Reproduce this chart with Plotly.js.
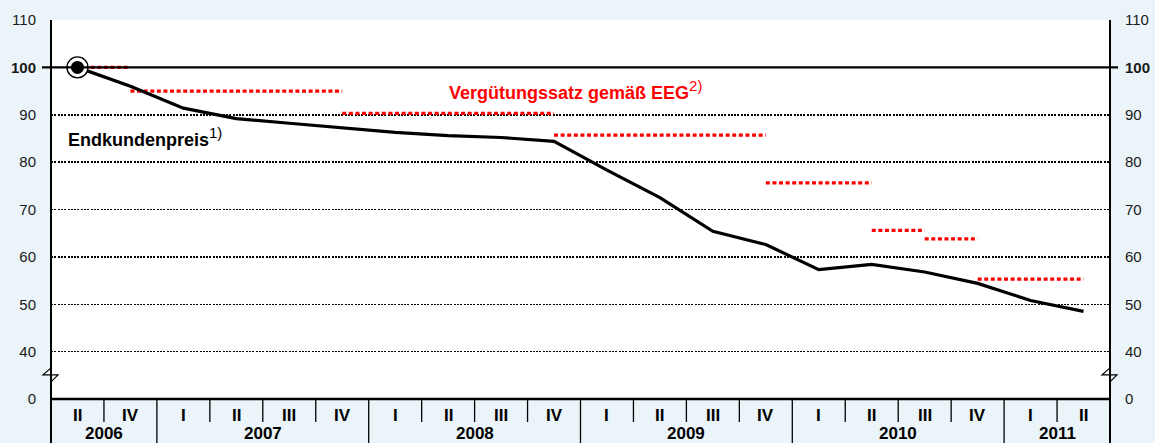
<!DOCTYPE html>
<html><head><meta charset="utf-8">
<script src="https://cdn.plot.ly/plotly-3.0.1.min.js"></script>
<style>html,body{margin:0;padding:0;background:#EBF4F8;}</style>
</head><body><div id="chart" style="width:1155px;height:443px;"></div>
<script>
// Categories (quarter columns) and their years
const quarters = ['II','IV','I','II','III','IV','I','II','III','IV','I','II','III','IV','I','II','III','IV','I','II'];
const quarterYears = ['2006','2006','2007','2007','2007','2007','2008','2008','2008','2008','2009','2009','2009','2009','2010','2010','2010','2010','2011','2011'];

// Endkundenpreis index (2006 II = 100)
const endkundenpreis = [100, 96.0, 91.4, 89.2, 88.2, 87.3, 86.3, 85.6, 85.2, 84.4, 78.3, 72.5, 65.4, 62.6, 57.3, 58.4, 56.8, 54.4, 50.8, 48.5];

// Vergütungssatz gemäß EEG: step segments (start column, end column, rate)
const eegStart = [0, 1, 5, 9, 13, 15, 16, 17];
const eegEnd   = [1, 5, 9, 13, 15, 16, 17, 19];
const eegRate  = [100, 95.0, 90.3, 85.7, 75.6, 65.6, 63.8, 55.3];

// Y axis ticks (axis break: "0" shown at the bottom)
const yTickVals = [30, 40, 50, 60, 70, 80, 90, 100, 110];
const yTickText = ['0', '40', '50', '60', '70', '80', '90', '<b>100</b>', '110'];

const FONT = 'Liberation Sans, Arial, sans-serif';
const xIdx = quarters.map((q, i) => i);

// Build red step trace from segments
const eegX = [], eegY = [];
eegRate.forEach((r, k) => {
  eegX.push(eegStart[k], eegEnd[k], null);
  eegY.push(r, r, null);
});

const traces = [
  { x: eegX, y: eegY, mode: 'lines', line: { color: '#FF0000', width: 3.2, dash: '4px,2.6px' }, hoverinfo: 'skip', showlegend: false },
  { x: xIdx, y: endkundenpreis, mode: 'lines', line: { color: '#000', width: 3.2 }, showlegend: false },
  { x: [xIdx[0]], y: [endkundenpreis[0]], mode: 'markers', marker: { size: 21, color: '#fff', line: { color: '#000', width: 1.3 } }, showlegend: false },
  { x: [xIdx[0]], y: [endkundenpreis[0]], mode: 'markers', marker: { size: 13, color: '#000' }, showlegend: false },
  { x: [xIdx[0]], y: [null], yaxis: 'y2', mode: 'markers', showlegend: false, hoverinfo: 'skip' }
];

const plotH = 443 - 20 - 44;
const plotW = 1155 - 51 - 45;
const bottomP = -44 / plotH;
const shortP = -(422 - 399) / plotH;

const shapes = [];
// column separators
for (let i = 1; i < quarters.length; i++) {
  const yearBreak = quarterYears[i] !== quarterYears[i - 1];
  shapes.push({ type: 'line', xref: 'x', yref: 'paper', x0: i - 0.5, x1: i - 0.5, y0: 0, y1: yearBreak ? bottomP : shortP,
    line: { color: '#000', width: 1.3 } });
}
// borders
shapes.push({ type: 'line', xref: 'paper', yref: 'paper', x0: 0, x1: 0, y0: 1, y1: bottomP, line: { color: '#000', width: 2 } });
shapes.push({ type: 'line', xref: 'paper', yref: 'paper', x0: 1, x1: 1, y0: 1, y1: bottomP, line: { color: '#000', width: 2 } });
shapes.push({ type: 'line', xref: 'paper', yref: 'paper', x0: 0, x1: 1, y0: 0, y1: 0, line: { color: '#000', width: 2.5 } });
// 100 reference line
shapes.push({ type: 'line', xref: 'paper', yref: 'y', x0: -9 / plotW, x1: 1 + 8 / plotW, y0: 100, y1: 100, line: { color: '#000', width: 2.2 } });
// axis break zigzags
[0, 1].forEach(px => {
  shapes.push({ type: 'path', xref: 'paper', yref: 'y', xsizemode: 'pixel', ysizemode: 'pixel', xanchor: px, yanchor: 35.1,
    path: 'M0,7 L-8,0 L7,0 L0,-7', line: { color: '#000', width: 1.2 } });
});

const annotations = [];
quarters.forEach((q, i) => {
  annotations.push({ xref: 'x', yref: 'paper', x: i, y: -(415 - 399) / plotH, text: '<b>' + q + '</b>', showarrow: false,
    xanchor: 'center', yanchor: 'middle', font: { family: FONT, size: 17, color: '#000' } });
});
const yearList = [...new Set(quarterYears)];
yearList.forEach(yr => {
  const idx = xIdx.filter(i => quarterYears[i] === yr);
  const c = (idx[0] + idx[idx.length - 1]) / 2;
  annotations.push({ xref: 'x', yref: 'paper', x: c, y: -(433.5 - 399) / plotH, text: '<b>' + yr + '</b>', showarrow: false,
    xanchor: 'center', yanchor: 'middle', font: { family: FONT, size: 17, color: '#000' } });
});
annotations.push({ xref: 'paper', yref: 'y', x: 15 / plotW, y: 85.3, text: '<b>Endkundenpreis</b><sup><span style="font-size:15px">1)</span></sup>', showarrow: false,
  xanchor: 'left', yanchor: 'middle', font: { family: FONT, size: 18, color: '#000' } });
annotations.push({ xref: 'paper', yref: 'y', x: (447 - 51) / plotW, y: 95.2, text: '<b>Vergütungssatz gemäß EEG</b><sup><span style="font-size:15px">2)</span></sup>', showarrow: false,
  xanchor: 'left', yanchor: 'middle', font: { family: FONT, size: 18, color: '#FF0000' } });

const yCommon = {
  range: [30, 110], tickvals: yTickVals, ticktext: yTickText, ticks: '', ticklabelstandoff: 14,
  tickfont: { family: FONT, size: 15, color: '#1a1a1a' }, zeroline: false, showline: false, fixedrange: true
};

const layout = {
  width: 1155, height: 443,
  margin: { l: 51, r: 45, t: 20, b: 44, pad: 0 },
  paper_bgcolor: '#EBF4F8', plot_bgcolor: '#ffffff',
  showlegend: false,
  xaxis: { range: [-0.5, 19.5], showgrid: false, zeroline: false, showticklabels: false, ticks: '', showline: false, fixedrange: true },
  yaxis: Object.assign({}, yCommon, { side: 'left', showgrid: true, gridcolor: '#000', gridwidth: 1.5, griddash: '2px,1.3px' }),
  yaxis2: Object.assign({}, yCommon, { side: 'right', overlaying: 'y', showgrid: false }),
  shapes: shapes,
  annotations: annotations
};

Plotly.newPlot('chart', traces, layout, { staticPlot: true, displayModeBar: false });
</script></body></html>
